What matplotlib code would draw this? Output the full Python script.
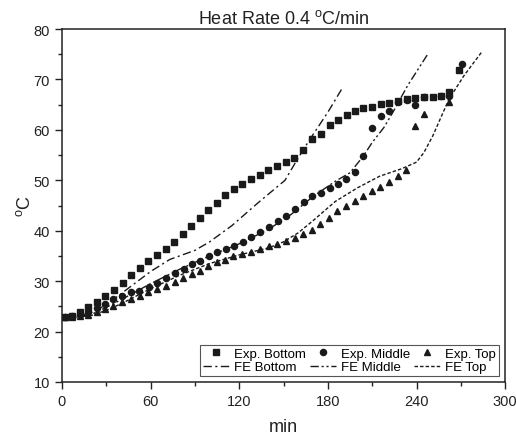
import matplotlib
matplotlib.use("Agg")
import matplotlib.pyplot as plt
from matplotlib.ticker import MultipleLocator

plt.rcParams['font.family'] = ['Liberation Sans', 'DejaVu Sans']
plt.rcParams['mathtext.fontset'] = 'custom'
plt.rcParams['mathtext.rm'] = 'Liberation Sans'

# Experimental data
exp_bottom_t = [2.0, 6.6, 12.2, 17.8, 23.5, 29.1, 35.2, 41.1, 46.7, 52.8, 58.4, 64.1, 70.4, 76.0,
                81.7, 87.3, 93.4, 99.1, 104.7, 110.5, 116.4, 122.1, 128.0, 133.9, 139.7, 145.6,
                151.5, 157.3, 163.4, 169.5, 175.2, 181.5, 186.9, 192.8, 198.2, 204.1, 209.8,
                215.7, 221.5, 227.6, 233.5, 239.2, 244.8, 250.9, 256.6, 262.0, 268.5]
exp_bottom_T = [22.8, 23.1, 23.8, 24.8, 25.8, 27.1, 28.3, 29.7, 31.2, 32.7, 34.0, 35.2, 36.4, 37.8,
                39.3, 40.9, 42.5, 44.1, 45.5, 47.1, 48.3, 49.3, 50.2, 51.1, 52.0, 52.9,
                53.6, 54.4, 56.1, 58.2, 59.2, 61.0, 62.0, 63.0, 63.7, 64.4, 64.6,
                65.1, 65.4, 65.7, 66.1, 66.3, 66.6, 66.5, 66.7, 67.6, 71.8]

exp_middle_t = [2.0, 6.6, 12.2, 17.8, 23.5, 29.1, 34.8, 40.5, 46.8, 52.5, 58.6, 64.3, 70.6, 76.7,
                82.4, 88.0, 93.7, 99.3, 105.0, 110.9, 116.8, 122.4, 128.3, 134.2, 140.1, 146.0,
                151.9, 157.8, 163.6, 169.5, 175.2, 181.3, 186.9, 192.6, 198.2, 204.1, 209.6,
                215.7, 221.5, 227.2, 233.3, 239.0, 244.8, 256.6, 262.0, 270.5]
exp_middle_T = [22.8, 23.0, 23.3, 23.8, 24.6, 25.4, 26.4, 27.0, 27.8, 28.1, 28.8, 29.7, 30.7, 31.7,
                32.4, 33.4, 33.9, 35.0, 35.7, 36.3, 37.0, 37.8, 38.7, 39.7, 40.7, 42.0,
                43.0, 44.3, 45.6, 46.8, 47.5, 48.5, 49.3, 50.2, 51.6, 54.8, 60.4,
                62.8, 63.7, 65.6, 66.0, 64.9, 66.6, 66.8, 66.7, 73.0]

exp_top_t = [2.0, 6.6, 12.2, 17.8, 23.5, 29.1, 34.8, 40.5, 46.8, 52.8, 58.4, 64.1, 70.4, 76.5,
             82.1, 87.8, 93.5, 99.1, 104.7, 110.4, 116.1, 122.2, 128.1, 134.2, 139.9, 145.9,
             151.7, 157.6, 163.3, 169.0, 174.7, 180.8, 186.5, 192.3, 198.2, 204.0, 209.8,
             215.6, 221.5, 227.2, 232.9, 239.0, 244.8, 262.3]
exp_top_T = [22.8, 22.8, 23.1, 23.3, 23.8, 24.4, 25.1, 25.8, 26.4, 27.1, 27.8, 28.4, 29.1, 29.9,
             30.6, 31.4, 32.1, 33.0, 33.7, 34.2, 34.9, 35.4, 35.8, 36.3, 37.0, 37.3,
             37.9, 38.6, 39.3, 40.2, 41.3, 42.6, 44.0, 45.0, 45.9, 46.9, 47.8,
             48.7, 49.6, 50.8, 52.1, 60.8, 63.1, 65.5]

# FE simulation curves
fe_bottom_t = [0, 10, 20, 30, 45, 60, 73, 90, 100, 115, 133, 151, 157, 163, 168, 180, 190]
fe_bottom_T = [22.7, 23.0, 23.8, 25.3, 28.6, 31.9, 34.3, 36.1, 37.8, 41.0, 45.6, 50.0, 53.0, 55.9, 58.2, 63.5, 68.4]

fe_middle_t = [0, 10, 20, 30, 40, 60, 80, 100, 120, 140, 155, 170, 185, 195, 204, 210, 218, 225, 234, 248]
fe_middle_T = [22.7, 22.9, 23.4, 24.8, 26.3, 29.5, 32.4, 35.0, 37.4, 40.3, 43.2, 46.8, 49.8, 51.5, 54.8, 57.5, 60.5, 64.0, 68.8, 75.2]

fe_top_t = [0, 10, 20, 30, 40, 60, 80, 100, 120, 140, 150, 160, 170, 185, 200, 215, 230, 240, 245, 251, 257, 262, 272, 284]
fe_top_T = [22.7, 22.8, 23.2, 24.2, 25.5, 28.5, 31.2, 33.5, 35.2, 36.6, 37.8, 39.6, 42.0, 45.8, 48.5, 50.8, 52.3, 53.6, 55.5, 58.8, 62.8, 66.1, 70.7, 75.4]

fig = plt.figure(figsize=(5.16, 4.39), dpi=100)
ax = fig.add_axes([0.120, 0.1276, 0.859, 0.804])

ink = '#1a1a1a'
ax.plot(exp_bottom_t, exp_bottom_T, linestyle='none', marker='s', markersize=4.2, color=ink, label='Exp. Bottom')
ax.plot(fe_bottom_t, fe_bottom_T, linestyle=(0, (6, 2.5, 1.5, 2.5)), lw=1.0, color=ink, label='FE Bottom')
ax.plot(exp_middle_t, exp_middle_T, linestyle='none', marker='o', markersize=4.4, color=ink, label='Exp. Middle')
ax.plot(fe_middle_t, fe_middle_T, linestyle=(0, (6, 2, 1.5, 2, 1.5, 2)), lw=1.0, color=ink, label='FE Middle')
ax.plot(exp_top_t, exp_top_T, linestyle='none', marker='^', markersize=4.6, color=ink, label='Exp. Top')
ax.plot(fe_top_t, fe_top_T, linestyle=(0, (2.5, 1.5)), lw=1.0, color=ink, label='FE Top')

ax.set_xlim(0, 300)
ax.set_ylim(10, 80)
ax.xaxis.set_major_locator(MultipleLocator(60))
ax.xaxis.set_minor_locator(MultipleLocator(30))
ax.yaxis.set_major_locator(MultipleLocator(10))
ax.yaxis.set_minor_locator(MultipleLocator(5))
ax.tick_params(which='both', direction='out', top=False, right=False, colors='#222222', labelsize=10.5, width=1.0)
ax.tick_params(which='major', length=5)
ax.tick_params(which='minor', length=3)
for s in ax.spines.values():
    s.set_linewidth(1.1)
    s.set_color('#222222')

ax.set_title(r'Heat Rate 0.4 $^{\mathrm{o}}$C/min', fontsize=13, color='#222222', pad=4)
ax.set_xlabel('min', fontsize=13, color='#222222', labelpad=7)
ax.set_ylabel(r'$^{\mathrm{o}}$C', fontsize=13, color='#222222', labelpad=0)

leg = ax.legend(ncol=3, loc='lower right', bbox_to_anchor=(0.985, 0.017), fontsize=9.5,
                frameon=True, fancybox=False, edgecolor='#555555', framealpha=1,
                handlelength=2.0, handletextpad=0.35, columnspacing=0.3,
                borderpad=0.2, labelspacing=0.1, borderaxespad=0.0)
leg.get_frame().set_linewidth(0.8)

fig.savefig('out.png', dpi=100)
